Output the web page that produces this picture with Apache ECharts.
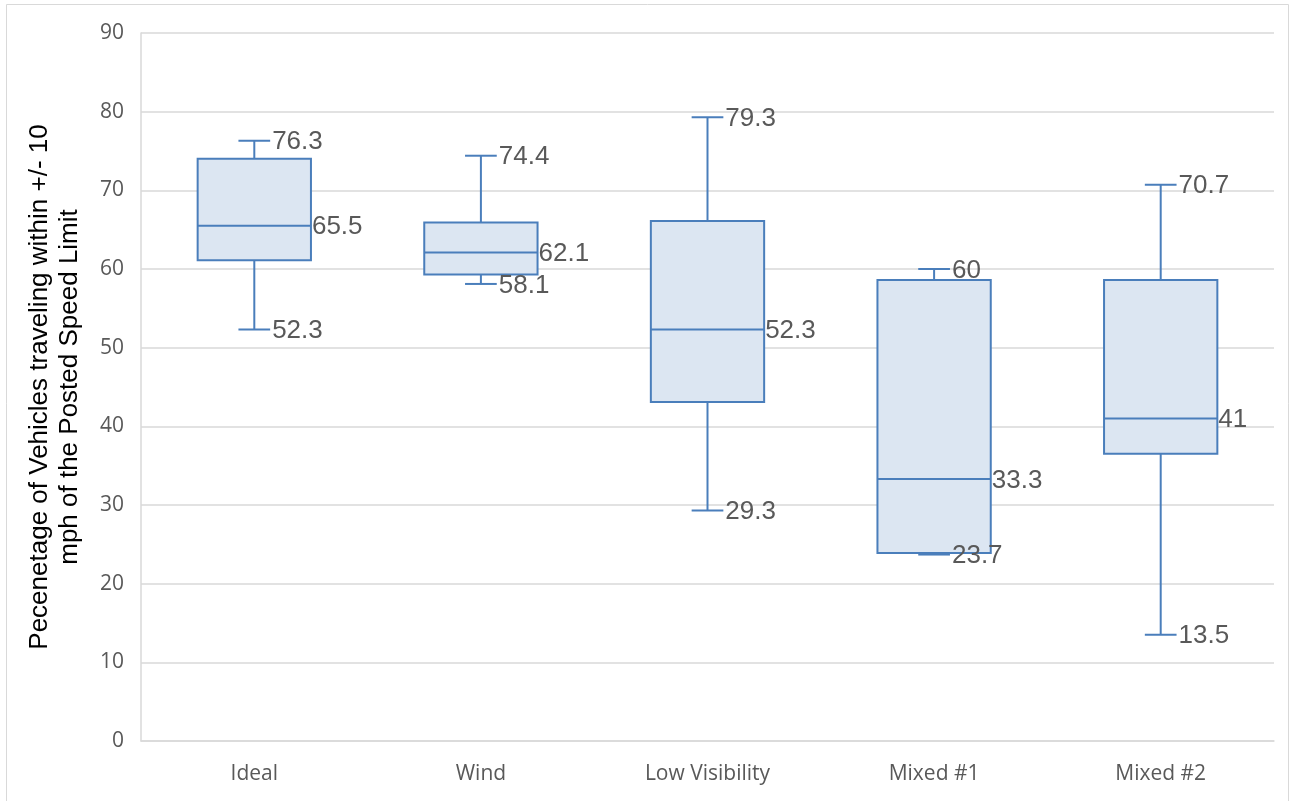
<!DOCTYPE html>
<html>
<head>
<meta charset="utf-8">
<script src="https://cdn.jsdelivr.net/npm/echarts@6/dist/echarts.min.js"></script>
<style>
html,body{margin:0;padding:0;background:#fff;}
#chart{width:1293px;height:801px;}
</style>
</head>
<body>
<div id="chart"></div>
<script>
const categories = ['Ideal', 'Wind', 'Low Visibility', 'Mixed #1', 'Mixed #2'];
const minValues = [52.3, 58.1, 29.3, 23.7, 13.5];
const q1Values = [61.1, 59.3, 43.1, 23.9, 36.5];
const medianValues = [65.5, 62.1, 52.3, 33.3, 41];
const q3Values = [74.0, 65.9, 66.1, 58.6, 58.6];
const maxValues = [76.3, 74.4, 79.3, 60, 70.7];
const yTicks = [0, 10, 20, 30, 40, 50, 60, 70, 80, 90];

const data = categories.map((c, i) => [i, minValues[i], q1Values[i], medianValues[i], q3Values[i], maxValues[i]]);

const stroke = '#4a7ebb';
const fill = '#dce6f2';
const labelColor = '#595959';
const labelFont = '26px "Liberation Sans", Arial, sans-serif';

function renderItem(params, api) {
  const idx = api.value(0);
  const vMin = api.value(1), vQ1 = api.value(2), vMed = api.value(3), vQ3 = api.value(4), vMax = api.value(5);
  const cx = api.coord([idx, 0])[0];
  const band = api.size([1, 0])[0];
  const bh = band * 0.25;
  const ch = band * 0.07;
  const yMin = api.coord([idx, vMin])[1];
  const yQ1 = api.coord([idx, vQ1])[1];
  const yMed = api.coord([idx, vMed])[1];
  const yQ3 = api.coord([idx, vQ3])[1];
  const yMax = api.coord([idx, vMax])[1];
  const ls = {stroke: stroke, lineWidth: 2};
  const ts = (txt, x, y) => ({type: 'text', x: x, y: y, style: {text: txt, fill: labelColor, font: labelFont, align: 'left', verticalAlign: 'middle'}});
  return {
    type: 'group',
    children: [
      {type: 'line', shape: {x1: cx, y1: yQ3, x2: cx, y2: yMax}, style: ls},
      {type: 'line', shape: {x1: cx, y1: yQ1, x2: cx, y2: yMin}, style: ls},
      {type: 'line', shape: {x1: cx - ch, y1: yMax, x2: cx + ch, y2: yMax}, style: ls},
      {type: 'line', shape: {x1: cx - ch, y1: yMin, x2: cx + ch, y2: yMin}, style: ls},
      {type: 'rect', shape: {x: cx - bh, y: yQ3, width: bh * 2, height: yQ1 - yQ3}, style: {fill: fill, stroke: stroke, lineWidth: 2}},
      {type: 'line', shape: {x1: cx - bh, y1: yMed, x2: cx + bh, y2: yMed}, style: ls},
      ts(String(vMax), cx + ch + 2, yMax + 1.5),
      ts(String(vMin), cx + ch + 2, yMin + 1.5),
      ts(String(vMed), cx + bh + 1, yMed + 1.5)
    ]
  };
}

const chart = echarts.init(document.getElementById('chart'));
chart.setOption({
  backgroundColor: '#fff',
  animation: false,
  graphic: [{
    type: 'rect', shape: {x: 6.5, y: 4.5, width: 1282, height: 800},
    style: {fill: 'none', stroke: '#d9d9d9', lineWidth: 1}, silent: true
  }],
  grid: {left: 141, top: 33, right: 19, bottom: 60},
  xAxis: {
    type: 'category',
    data: categories,
    boundaryGap: true,
    axisLine: {show: true, lineStyle: {color: '#d9d9d9', width: 1.5}},
    axisTick: {show: false},
    axisLabel: {color: labelColor, fontSize: 21, fontFamily: '"Open Sans", sans-serif', margin: 23}
  },
  yAxis: {
    type: 'value',
    min: 0, max: 90, interval: 10,
    name: 'Pecenetage of Vehicles traveling within +/- 10\nmph of the Posted Speed Limit',
    nameLocation: 'middle',
    nameRotate: 90,
    nameGap: 56,
    nameTextStyle: {color: '#000', fontSize: 26, fontFamily: '"Liberation Sans", Arial, sans-serif', lineHeight: 30},
    axisLine: {show: true, lineStyle: {color: '#d9d9d9', width: 1.5}},
    axisTick: {show: false},
    axisLabel: {color: labelColor, fontSize: 21, fontFamily: '"Open Sans", sans-serif', margin: 17,
      formatter: v => yTicks.includes(v) ? String(v) : ''},
    splitLine: {show: true, lineStyle: {color: '#d9d9d9', width: 1.5}}
  },
  series: [{
    type: 'custom',
    renderItem: renderItem,
    encode: {x: 0, y: [1, 2, 3, 4, 5]},
    data: data,
    clip: false
  }]
});
</script>
</body>
</html>
